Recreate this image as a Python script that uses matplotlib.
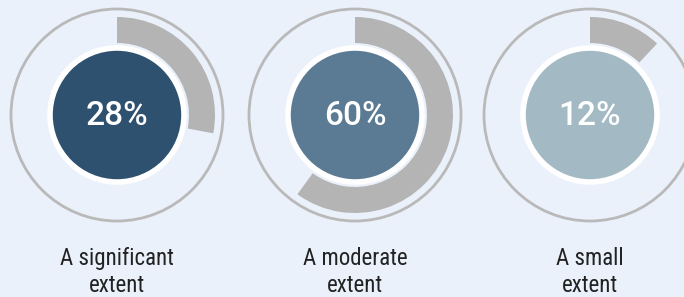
import matplotlib
matplotlib.use('Agg')
import matplotlib.pyplot as plt
from matplotlib.patches import Circle

# data
labels = ['A significant\nextent', 'A moderate\nextent', 'A small\nextent']
shares = [28, 60, 12]
fills = ['#2e5170', '#5a7b93', '#a3bac4']

bg = '#ebf1fb'
arc_grey = '#b3b4b3'
ring_grey = '#b9b9b9'

centers_x = [117, 355, 590]
cy = 182

fig = plt.figure(figsize=(6.84, 2.97), dpi=100, facecolor=bg)
ax = fig.add_axes([0, 0, 1, 1])
ax.set_facecolor(bg)

for x, share, col, lab in zip(centers_x, shares, fills, labels):
    # outer thin ring
    ax.add_patch(Circle((x, cy), 106, fill=False, ec=ring_grey, lw=2))
    # grey progress arc
    ax.pie([share, 100 - share], colors=[arc_grey, 'none'], startangle=90,
           counterclock=False, radius=98, center=(x, cy),
           wedgeprops=dict(width=26, linewidth=0))
    # filled inner disc with white edge
    ax.add_patch(Circle((x, cy), 67, fc=col, ec='white', lw=4, zorder=5))
    ax.text(x, cy - 1, f'{share}%', color='white', fontsize=24, ha='center',
            va='center', family=['Roboto', 'DejaVu Sans'],
            weight='medium', zorder=6)
    ax.text(x, 5, lab, color='#222222', fontsize=16.5, ha='center',
            va='baseline', linespacing=1.22,
            family=['Roboto Condensed', 'DejaVu Sans'])

ax.set_xlim(0, 684)
ax.set_ylim(0, 297)
ax.set_aspect('equal')
ax.axis('off')
fig.savefig('out.png', dpi=100, facecolor=bg)
